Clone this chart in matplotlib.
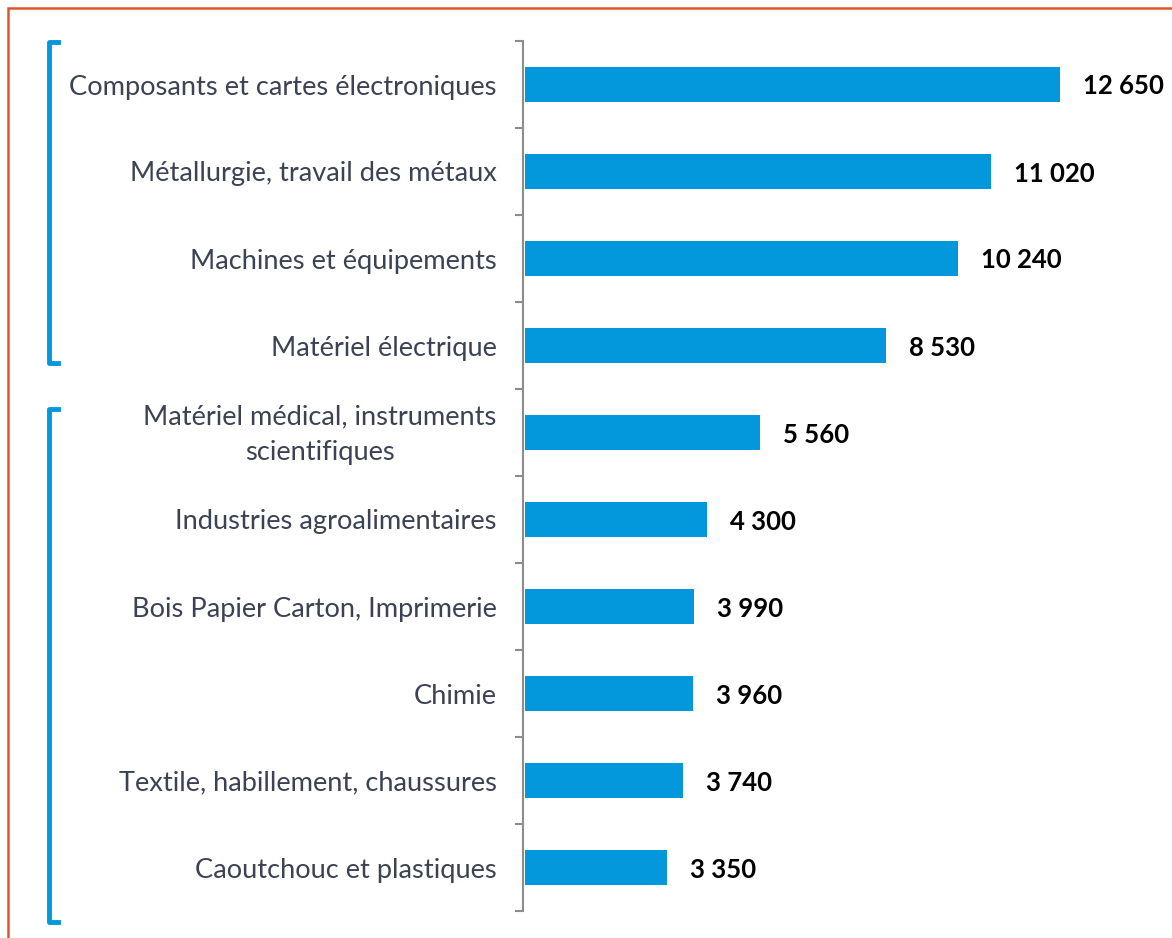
import matplotlib
matplotlib.use("Agg")
import matplotlib.pyplot as plt
from matplotlib.lines import Line2D
from matplotlib.patches import Rectangle
import matplotlib.transforms as mtransforms

categories = [
    "Composants et cartes électroniques",
    "Métallurgie, travail des métaux",
    "Machines et équipements",
    "Matériel électrique",
    "Matériel médical, instruments\nscientifiques",
    "Industries agroalimentaires",
    "Bois Papier Carton, Imprimerie",
    "Chimie",
    "Textile, habillement, chaussures",
    "Caoutchouc et plastiques",
]
values = [12650, 11020, 10240, 8530, 5560, 4300, 3990, 3960, 3740, 3350]
value_labels = ["12 650", "11 020", "10 240", "8 530", "5 560", "4 300", "3 990", "3 960", "3 740", "3 350"]
groups = [(0, 3), (4, 9)]

W, H = 1172, 938
DPI = 100
plt.rcParams['font.family'] = ['Lato', 'DejaVu Sans']

fig = plt.figure(figsize=(W / DPI, H / DPI), dpi=DPI)
ax = fig.add_axes([523 / W, 27 / H, (W - 523) / W, 870 / H])

for s in ["top", "right", "bottom"]:
    ax.spines[s].set_visible(False)
ax.spines["left"].set_color("#8C8C8C")
ax.spines["left"].set_linewidth(1.5)

bar_color = "#0397DC"
ax.barh(range(len(values)), values, height=0.4, color=bar_color, left=0)
ax.set_ylim(len(values) - 0.5, -0.5)
ax.set_xlim(-50, 15300)

for i, (v, lab) in enumerate(zip(values, value_labels)):
    ax.annotate(lab, xy=(v, i), xytext=(23, -2), textcoords="offset pixels",
                ha="left", va="center", fontsize=18.5, fontweight="bold", color="black")

ax.set_yticks(range(len(values)))
ax.set_yticks([i - 0.5 for i in range(len(values) + 1)], minor=True)
ax.tick_params(axis="y", which="major", length=0, pad=19, labelsize=19.6, labelcolor="#3B4254")
ax.tick_params(axis="y", which="minor", length=6, width=1.5, color="#8C8C8C")
ax.set_yticklabels(categories)
shift_up = mtransforms.ScaledTranslation(0, 6 / DPI, fig.dpi_scale_trans)
for t in ax.get_yticklabels():
    t.set_multialignment("center")
    t.set_linespacing(1.55)
    if "\n" in t.get_text():
        t.set_transform(t.get_transform() + shift_up)
ax.set_xticks([])

# group brackets
blend = mtransforms.blended_transform_factory(fig.transFigure, ax.transData)
bx = 49 / W
bx2 = 58 / W
for (a, b), (ya, yb) in zip(groups, [(-0.49, 3.2), (3.73, 9.63)]):
    ax.add_line(Line2D([bx2, bx, bx, bx2], [ya, ya, yb, yb], transform=blend,
                       color=bar_color, lw=3.5, clip_on=False, solid_joinstyle="round"))

# orange frame
fig.patches.append(Rectangle((8 / W, -0.1), 1.2, (H - 8) / H + 0.1, transform=fig.transFigure,
                             fill=False, edgecolor="#E0562A", lw=1.8))

fig.savefig("out.png", dpi=DPI)
